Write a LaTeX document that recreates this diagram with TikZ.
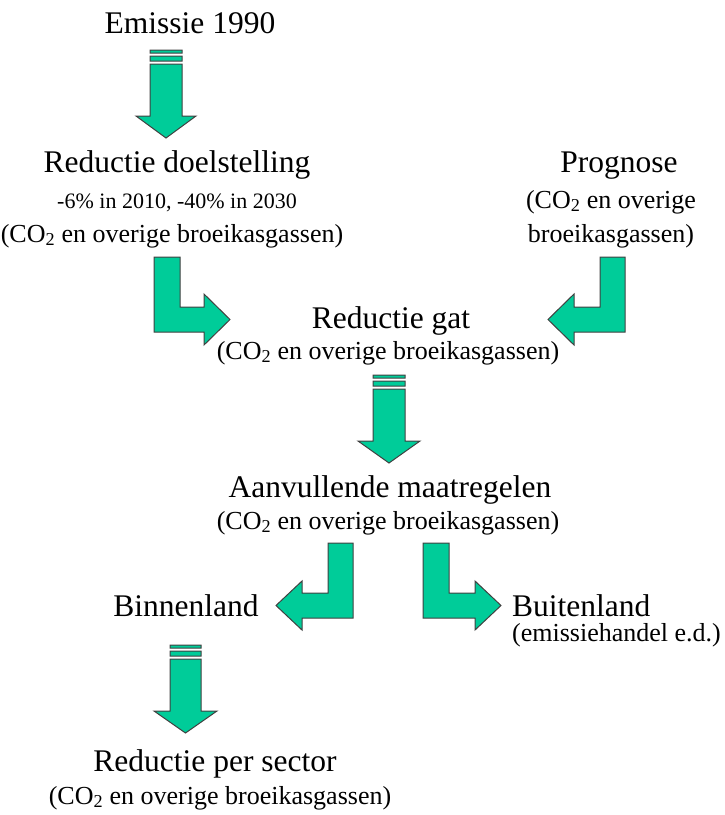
\documentclass[tikz,border=0pt]{standalone}
\usepackage{fontspec}
\setmainfont{Liberation Serif}
\definecolor{pijlgroen}{RGB}{0,204,153}
\tikzset{
  pijl/.style={fill=pijlgroen,draw=black!75,line width=1pt},
  kop/.style={anchor=base,inner sep=0pt,font=\fontsize{31.5}{36}\selectfont},
  noot/.style={anchor=base,inner sep=0pt,font=\fontsize{26}{30}\selectfont}
}
\begin{document}
\begin{tikzpicture}[x=1pt,y=-1pt]
\useasboundingbox (0,0) rectangle (725,815);
\draw[pijl]
    (150,50) rectangle ++(32,3)
    (150,56) rectangle ++(32,5)
    (150,64) -- ++(0,52) -- ++(-14,0) -- ++(30,22) -- ++(30,-22) -- ++(-14,0) -- ++(0,-52) -- cycle
    (373,375) rectangle ++(32,3)
    (373,381) rectangle ++(32,5)
    (373,389) -- ++(0,52) -- ++(-15,0) -- ++(31,22) -- ++(31,-22) -- ++(-15,0) -- ++(0,-52) -- cycle
    (170,645) rectangle ++(31,3)
    (170,651) rectangle ++(31,5)
    (170,659) -- ++(0,52) -- ++(-16,0) -- ++(31.5,22) -- ++(31.5,-22) -- ++(-16,0) -- ++(0,-52) -- cycle;
\draw[pijl]
    (154,257) -- ++(26,0) -- ++(0,50) -- ++(24,0) -- ++(0,-13) -- ++(26,25.5)
        -- ++(-26,25.5) -- ++(0,-13) -- ++(-50,0) -- cycle
    (625,257) -- ++(-25,0) -- ++(0,50) -- ++(-26,0) -- ++(0,-13) -- ++(-26,25.5)
        -- ++(26,25.5) -- ++(0,-13) -- ++(51,0) -- cycle
    (353,543) -- ++(-25,0) -- ++(0,50) -- ++(-26,0) -- ++(0,-12) -- ++(-26,24.5)
        -- ++(26,24.5) -- ++(0,-12) -- ++(51,0) -- cycle
    (423,543) -- ++(26,0) -- ++(0,50) -- ++(26,0) -- ++(0,-12) -- ++(26,24.5)
        -- ++(-26,24.5) -- ++(0,-12) -- ++(-52,0) -- cycle;
\path
    (190,33)  node (emissie) [kop] {Emissie 1990}
    (177,172) node (doel) [kop] {Reductie doelstelling}
    (177,208) node (doelpct) [noot,font=\fontsize{22}{26}\selectfont] {-6\% in 2010, -40\% in 2030}
    (172,242) node (doelco) [noot] {(CO\textsubscript{2} en overige broeikasgassen)}
    (619,172) node (prognose) [kop] {Prognose}
    (611,208) node (progco) [noot] {(CO\textsubscript{2} en overige}
    (611,242) node (progbroei) [noot] {broeikasgassen)}
    (391,328) node (gat) [kop] {Reductie gat}
    (388,359) node (gatco) [noot] {(CO\textsubscript{2} en overige broeikasgassen)}
    (390,497) node (aanv) [kop] {Aanvullende maatregelen}
    (388,529) node (aanvco) [noot] {(CO\textsubscript{2} en overige broeikasgassen)}
    (186,616) node (binnen) [kop] {Binnenland}
    (512,616) node (buiten) [kop,anchor=base west] {Buitenland}
    (512,641) node (handel) [noot,anchor=base west] {(emissiehandel e.d.)}
    (215,771) node (sector) [kop] {Reductie per sector}
    (220,804) node (sectorco) [noot] {(CO\textsubscript{2} en overige broeikasgassen)};
\end{tikzpicture}
\end{document}
